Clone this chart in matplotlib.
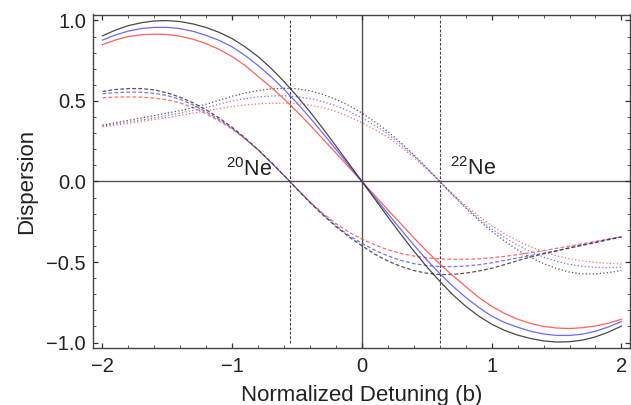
import matplotlib
matplotlib.use("Agg")
import matplotlib.pyplot as plt
from matplotlib.ticker import MultipleLocator, FixedLocator

# ---- data ----
x = [-2.0, -1.9, -1.8, -1.7, -1.6, -1.5, -1.4, -1.3, -1.2, -1.1, -1.0,
     -0.9, -0.8, -0.7, -0.6, -0.5, -0.4, -0.3, -0.2, -0.1, 0.0,
     0.1, 0.2, 0.3, 0.4, 0.5, 0.6, 0.7, 0.8, 0.9, 1.0,
     1.1, 1.2, 1.3, 1.4, 1.5, 1.6, 1.7, 1.8, 1.9, 2.0]

# total dispersion (solid)
total_black = [0.905, 0.94, 0.968, 0.986, 0.997, 0.999, 0.993, 0.978, 0.956, 0.926, 0.887,
               0.836, 0.775, 0.703, 0.62, 0.53, 0.432, 0.328, 0.22, 0.11, 0.0,
               -0.11, -0.22, -0.328, -0.432, -0.53, -0.62, -0.703, -0.775, -0.836, -0.886,
               -0.925, -0.954, -0.975, -0.99, -0.997, -0.995, -0.985, -0.965, -0.935, -0.898]
total_blue = [0.878, 0.91, 0.934, 0.95, 0.957, 0.957, 0.949, 0.932, 0.907, 0.876, 0.836,
              0.782, 0.72, 0.65, 0.572, 0.487, 0.395, 0.298, 0.2, 0.1, 0.0,
              -0.1, -0.2, -0.298, -0.395, -0.487, -0.572, -0.65, -0.72, -0.782, -0.836,
              -0.876, -0.905, -0.93, -0.947, -0.956, -0.956, -0.948, -0.93, -0.903, -0.87]
total_red = [0.85, 0.879, 0.9, 0.911, 0.915, 0.913, 0.902, 0.883, 0.856, 0.82, 0.775,
             0.72, 0.652, 0.585, 0.512, 0.433, 0.35, 0.263, 0.176, 0.088, 0.0,
             -0.088, -0.176, -0.263, -0.35, -0.433, -0.512, -0.585, -0.652, -0.72, -0.775,
             -0.82, -0.855, -0.882, -0.9, -0.91, -0.913, -0.908, -0.897, -0.88, -0.855]

# 20Ne contribution (dashed)
ne20_black = [0.559, 0.571, 0.577, 0.577, 0.569, 0.55, 0.523, 0.488, 0.445, 0.394, 0.336,
              0.27, 0.197, 0.12, 0.037, -0.048, -0.131, -0.208, -0.28, -0.344, -0.399,
              -0.452, -0.494, -0.527, -0.553, -0.57, -0.578, -0.577, -0.569, -0.556, -0.539,
              -0.516, -0.491, -0.469, -0.449, -0.431, -0.411, -0.394, -0.377, -0.36, -0.345]
ne20_blue = [0.545, 0.552, 0.555, 0.554, 0.548, 0.533, 0.51, 0.475, 0.432, 0.384, 0.33,
             0.267, 0.196, 0.118, 0.037, -0.047, -0.13, -0.206, -0.275, -0.335, -0.385,
             -0.427, -0.462, -0.49, -0.51, -0.522, -0.528, -0.529, -0.525, -0.517, -0.505,
             -0.49, -0.475, -0.46, -0.445, -0.43, -0.414, -0.397, -0.38, -0.362, -0.345]
ne20_red = [0.52, 0.524, 0.525, 0.524, 0.518, 0.507, 0.488, 0.458, 0.42, 0.376, 0.325,
            0.264, 0.195, 0.117, 0.036, -0.046, -0.126, -0.198, -0.262, -0.315, -0.358,
            -0.394, -0.424, -0.447, -0.463, -0.474, -0.48, -0.483, -0.483, -0.48, -0.474,
            -0.465, -0.454, -0.442, -0.429, -0.415, -0.401, -0.387, -0.372, -0.357, -0.342]

# 22Ne contribution (dotted)
ne22_black = [0.35, 0.365, 0.38, 0.395, 0.41, 0.425, 0.44, 0.46, 0.48, 0.505, 0.53,
              0.55, 0.565, 0.575, 0.579, 0.576, 0.563, 0.54, 0.51, 0.472, 0.425,
              0.37, 0.31, 0.24, 0.165, 0.085, 0.0, -0.085, -0.165, -0.24, -0.31,
              -0.37, -0.425, -0.472, -0.51, -0.54, -0.563, -0.574, -0.574, -0.566, -0.553]
ne22_blue = [0.345, 0.357, 0.37, 0.382, 0.395, 0.41, 0.425, 0.442, 0.46, 0.48, 0.5,
             0.515, 0.525, 0.531, 0.532, 0.527, 0.515, 0.496, 0.47, 0.436, 0.395,
             0.348, 0.295, 0.23, 0.16, 0.082, 0.0, -0.082, -0.16, -0.23, -0.295,
             -0.348, -0.395, -0.436, -0.47, -0.496, -0.515, -0.527, -0.533, -0.535, -0.533]
ne22_red = [0.34, 0.35, 0.36, 0.372, 0.385, 0.397, 0.41, 0.425, 0.44, 0.453, 0.465,
            0.475, 0.482, 0.486, 0.487, 0.483, 0.475, 0.458, 0.435, 0.403, 0.365,
            0.322, 0.275, 0.215, 0.15, 0.077, 0.0, -0.077, -0.15, -0.215, -0.275,
            -0.325, -0.368, -0.405, -0.437, -0.462, -0.48, -0.493, -0.502, -0.508, -0.512]

line_20 = -0.557
line_22 = 0.60
x_ticks = [-2, -1, 0, 1, 2]
y_ticks = [-1.0, -0.5, 0.0, 0.5, 1.0]

# ---- drawing ----
plt.rcParams['font.family'] = ['Liberation Sans', 'DejaVu Sans']
plt.rcParams['mathtext.fontset'] = 'custom'
plt.rcParams['mathtext.rm'] = 'Liberation Sans'

fig = plt.figure(figsize=(6.31, 4.05), dpi=100)
ax = fig.add_axes([93/631, 1-348/405, (630-93)/631, (348-14.5)/405])

C_BLACK = '#2a2a2a'
C_BLUE = '#5050ff'
C_RED = '#ff4545'
lw = 0.9

ax.axhline(0, color='#555555', lw=1.0, zorder=1)
ax.axvline(0, color='#555555', lw=1.0, zorder=1)
for xv in (line_20, line_22):
    ax.plot([xv, xv], [-1.0, 1.0], color='#444444', lw=0.8, ls=(0, (2.5, 1.5)), zorder=1)

dash = (0, (3, 1.8))
dot = (0, (1, 1.8))
for ys, c in ((ne20_red, C_RED), (ne20_blue, C_BLUE), (ne20_black, C_BLACK)):
    ax.plot(x, ys, color=c, lw=lw, ls=dash, alpha=0.8, zorder=2)
for ys, c in ((ne22_red, C_RED), (ne22_blue, C_BLUE), (ne22_black, C_BLACK)):
    ax.plot(x, ys, color=c, lw=lw, ls=dot, alpha=0.8, zorder=2)
for ys, c in ((total_red, C_RED), (total_blue, C_BLUE), (total_black, C_BLACK)):
    ax.plot(x, ys, color=c, lw=lw, ls='-', alpha=0.85, zorder=3)

ax.set_xlim(-2.073, 2.066)
ax.set_ylim(-1.034, 1.037)

ax.xaxis.set_major_locator(FixedLocator(x_ticks))
ax.yaxis.set_major_locator(FixedLocator(y_ticks))
ax.xaxis.set_minor_locator(MultipleLocator(0.2))
ax.yaxis.set_minor_locator(MultipleLocator(0.1))
ax.set_xticklabels(['\u22122', '\u22121', '0', '1', '2'])
ax.set_yticklabels(['\u22121.0', '\u22120.5', '0.0', '0.5', '1.0'])
ax.tick_params(which='both', direction='in', top=True, right=True,
               colors='#333333', labelcolor='#222222', labelsize=14.5)
ax.tick_params(which='major', length=3.5, width=0.9)
ax.tick_params(which='minor', length=2, width=0.6)
ax.tick_params(axis='x', which='major', pad=6.5)
ax.tick_params(axis='y', which='major', pad=5)
for s in ax.spines.values():
    s.set_color('#444444')
    s.set_linewidth(1.0)

ax.set_xlabel('Normalized Detuning (b)', fontsize=16, color='#222222', labelpad=6.5)
ax.set_ylabel('Dispersion', fontsize=16, color='#222222', labelpad=7)

ax.text(-0.69, 0.035, r'$^{20}$Ne', fontsize=15.5, ha='right', va='baseline', color='#222222')
ax.text(0.68, 0.04, r'$^{22}$Ne', fontsize=15.5, ha='left', va='baseline', color='#222222')

fig.savefig('out.png', dpi=100)
